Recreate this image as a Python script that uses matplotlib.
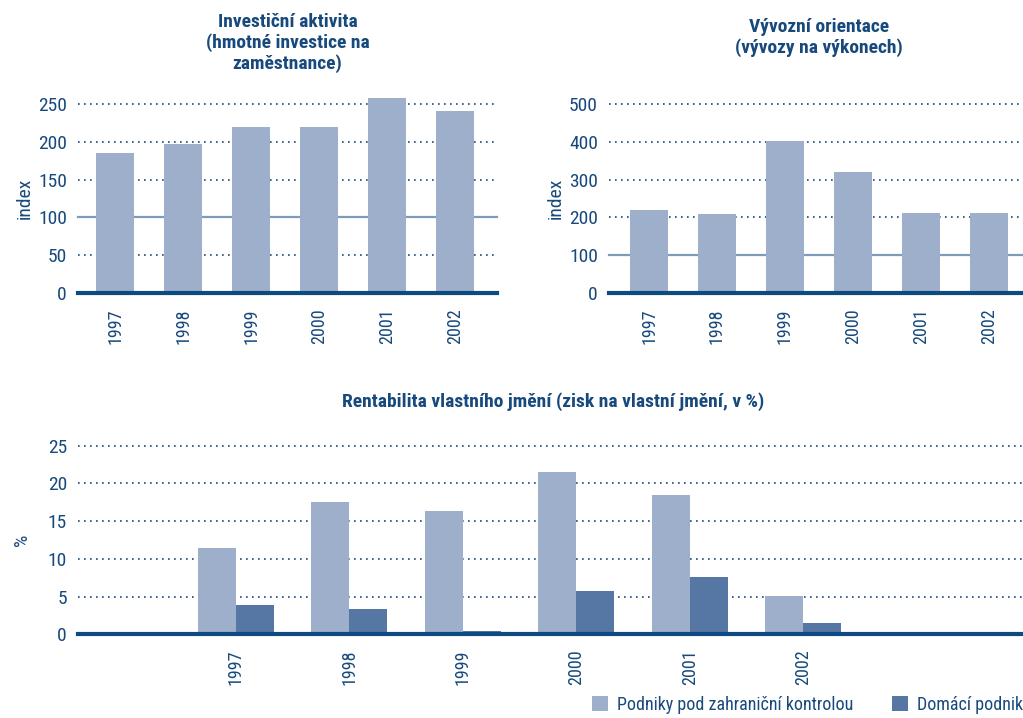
import matplotlib
matplotlib.use("Agg")
import matplotlib.pyplot as plt
from matplotlib.patches import Patch
import numpy as np

plt.rcParams['font.family'] = ['Roboto Condensed', 'Roboto', 'DejaVu Sans']

years = ['1997', '1998', '1999', '2000', '2001', '2002']

inv_title = 'Investiční aktivita\n(hmotné investice na\nzaměstnance)'
inv_values = [185, 197, 220, 220, 258, 241]
inv_ticks = [0, 50, 100, 150, 200, 250]

exp_title = 'Vývozní orientace\n(vývozy na výkonech)'
exp_values = [219, 208, 401, 319, 211, 211]
exp_ticks = [0, 100, 200, 300, 400, 500]

roe_title = 'Rentabilita vlastního jmění (zisk na vlastní jmění, v %)'
roe_foreign = [11.4, 17.5, 16.3, 21.5, 18.4, 5.1]
roe_domestic = [3.9, 3.4, 0.4, 5.7, 7.6, 1.5]
roe_ticks = [0, 5, 10, 15, 20, 25]
series_names = ['Podniky pod zahraniční kontrolou', 'Domácí podniky']

TXT = '#17497C'
LIGHT = '#9DAFCB'
DARK = '#5677A3'
BASE = '#0D4A80'
REF = '#7F9BBB'

W, H = 1023, 718
fig = plt.figure(figsize=(W / 100, H / 100), dpi=100)


def ax_at(x0, y_top, x1, y_bot):
    return fig.add_axes([x0 / W, 1 - y_bot / H, (x1 - x0) / W, (y_bot - y_top) / H])


def style(ax, ticks, ylabel, ref=None, labelpad=2):
    ax.set_ylim(ticks[0], ticks[-1])
    ax.set_yticks(ticks)
    ax.set_yticklabels([str(t) for t in ticks])
    for s in ax.spines.values():
        s.set_visible(False)
    ax.tick_params(axis='both', length=0, colors=TXT)
    ax.tick_params(axis='y', labelsize=14, pad=8)
    ax.tick_params(axis='x', labelsize=13, pad=11, labelrotation=90)
    for t in ticks[1:]:
        if ref is not None and t == ref:
            ax.axhline(t, color=REF, lw=1.6, zorder=1, clip_on=False)
        else:
            ax.axhline(t, color=TXT, lw=1.2, ls=(0, (1, 2.6)), zorder=1, clip_on=False)
    ax.axhline(0, color=BASE, lw=3, zorder=5, clip_on=False)
    ax.set_ylabel(ylabel, color=TXT, fontsize=14, labelpad=labelpad)


x = np.arange(len(years))

# Panel 1
ax1 = ax_at(78, 104, 497, 293)
b = ax1.bar(x, inv_values, width=0.56, color=LIGHT, zorder=3)
for p in b:
    p.set_clip_on(False)
ax1.set_xlim(-0.55, 5.62)
ax1.set_xticks(x)
ax1.set_xticklabels(years)
style(ax1, inv_ticks, 'index', ref=100, labelpad=3)
ax1.set_title(inv_title, color=TXT, fontsize=14, fontweight='bold', pad=25, linespacing=1.15)

# Panel 2
ax2 = ax_at(609, 104, 1029, 293)
b = ax2.bar(x, exp_values, width=0.56, color=LIGHT, zorder=3)
ax2.set_xlim(-0.59, 5.59)
ax2.set_xticks(x)
ax2.set_xticklabels(years)
style(ax2, exp_ticks, 'index', ref=100, labelpad=3)
ax2.set_title(exp_title, color=TXT, fontsize=14, fontweight='bold', pad=37, linespacing=1.15)

# Panel 3
ax3 = ax_at(78, 445.7, 1028, 634.3)
bw = 0.335
ax3.bar(x - bw / 2, roe_foreign, width=bw, color=LIGHT, zorder=3)
ax3.bar(x + bw / 2, roe_domestic, width=bw, color=DARK, zorder=3)
ax3.set_xlim(-1.39, 6.98)
ax3.set_xticks(x)
ax3.set_xticklabels(years)
style(ax3, roe_ticks, '%', labelpad=12)
ax3.tick_params(axis='x', pad=11)
ax3.set_title(roe_title, color=TXT, fontsize=14, fontweight='bold', pad=28)

handles = [Patch(facecolor=LIGHT, edgecolor='none'), Patch(facecolor=DARK, edgecolor='none')]
leg = fig.legend(handles, series_names, loc='upper left', bbox_to_anchor=(592 / W, 1 - 696 / H),
                 ncol=2, frameon=False, fontsize=13, handlelength=0.9, handleheight=0.9,
                 handletextpad=0.5, columnspacing=2.1, borderaxespad=0, borderpad=0)
for t in leg.get_texts():
    t.set_color(TXT)

fig.savefig('out.png', dpi=100)
